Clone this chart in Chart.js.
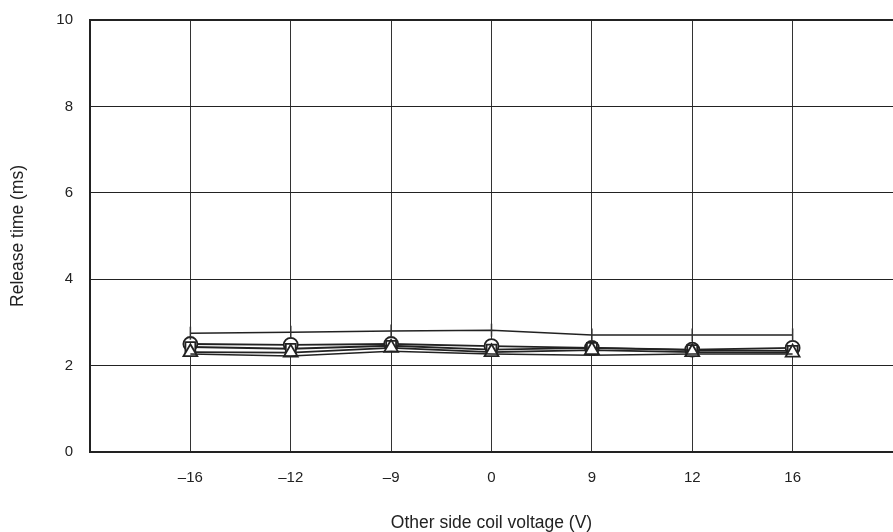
<!DOCTYPE html>
<html>
<head>
<meta charset="utf-8">
<script src="https://cdn.jsdelivr.net/npm/chart.js@4/dist/chart.umd.min.js"></script>
<style>
html,body{margin:0;padding:0;background:#fff;}
#wrap{width:893px;height:532px;}
</style>
</head>
<body>
<div id="wrap"><canvas id="c" width="893" height="532"></canvas></div>
<script>
const categories = ['\u201316', '\u201312', '\u20139', '0', '9', '12', '16'];
const maxValues = [2.75, 2.77, 2.80, 2.82, 2.71, 2.71, 2.71];
const circleValues = [2.50, 2.48, 2.50, 2.45, 2.41, 2.37, 2.41];
const squareValues = [2.43, 2.39, 2.46, 2.37, 2.41, 2.36, 2.34];
const triangleValues = [2.31, 2.30, 2.41, 2.31, 2.36, 2.31, 2.30];
const minValues = [2.27, 2.22, 2.33, 2.27, 2.24, 2.27, 2.27];
const yTicks = [0, 2, 4, 6, 8, 10];

const toPts = arr => arr.map((v, i) => ({x: i, y: v}));
const tickFont = {family: 'Liberation Sans, Arial, sans-serif', size: 15};
const titleFont = {family: 'Liberation Sans, Arial, sans-serif', size: 17.5};

const chart = new Chart(document.getElementById('c'), {
  type: 'line',
  data: {
    datasets: [
      {label: 'max', data: toPts(maxValues), borderColor: '#222', borderWidth: 1.5,
       pointStyle: 'line', rotation: 90, pointRadius: 6.5, pointBorderWidth: 1.5, pointBorderColor: '#333', tension: 0},
      {label: 'min', data: toPts(minValues), borderColor: '#222', borderWidth: 1.5, pointRadius: 0, tension: 0},
      {label: 'triangle', data: toPts(triangleValues), borderColor: '#222', borderWidth: 1.8,
       pointStyle: 'triangle', pointRadius: 8, pointBackgroundColor: '#fff', pointBorderColor: '#222', pointBorderWidth: 1.8, tension: 0},
      {label: 'square', data: toPts(squareValues), borderColor: '#222', borderWidth: 1.8,
       pointStyle: 'rect', pointRadius: 7, pointBackgroundColor: '#fff', pointBorderColor: '#222', pointBorderWidth: 1.8, tension: 0},
      {label: 'circle', data: toPts(circleValues), borderColor: '#222', borderWidth: 1.8,
       pointStyle: 'circle', pointRadius: 7, pointBackgroundColor: '#fff', pointBorderColor: '#222', pointBorderWidth: 1.8, tension: 0}
    ]
  },
  options: {
    responsive: false,
    animation: false,
    layout: {autoPadding: false, padding: {top: 20, right: 0, left: 0, bottom: 0}},
    plugins: {legend: {display: false}, tooltip: {enabled: false}},
    scales: {
      x: {
        type: 'linear', min: -1, max: 7,
        afterBuildTicks: axis => { axis.ticks = categories.map((c, i) => ({value: i})); },
        afterFit: axis => { axis.height = 80; axis.paddingLeft = 0; axis.paddingRight = 0; },
        ticks: {callback: (v) => categories[v] ?? '', color: '#222', font: tickFont, padding: 17, maxRotation: 0, autoSkip: false},
        grid: {color: '#333', lineWidth: 1, drawTicks: false},
        border: {color: '#222', width: 2},
        title: {display: true, text: 'Other side coil voltage (V)', color: '#222', font: titleFont, padding: {top: 29, bottom: -2}}
      },
      y: {
        min: 0, max: 10,
        afterBuildTicks: axis => { axis.ticks = yTicks.map(v => ({value: v})); },
        afterFit: axis => { axis.width = 90; axis.paddingTop = 0; axis.paddingBottom = 0; },
        ticks: {color: '#222', font: tickFont, padding: 17},
        grid: {color: '#222', lineWidth: ctx => (ctx.tick && ctx.tick.value === 10 ? 2 : 1), drawTicks: false},
        border: {color: '#222', width: 2},
        title: {display: true, text: 'Release time (ms)', color: '#222', font: titleFont, padding: {top: 8, bottom: 0}}
      }
    }
  }
});
</script>
</body>
</html>
